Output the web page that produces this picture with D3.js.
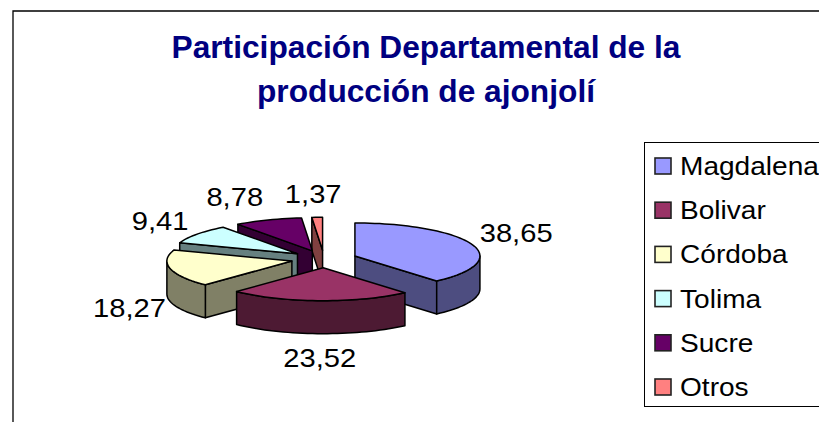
<!DOCTYPE html>
<html>
<head>
<meta charset="utf-8">
<script src="https://d3js.org/d3.v7.min.js"></script>
<style>
  html, body { margin: 0; padding: 0; background: #fff; overflow: hidden; }
  text { font-family: "Liberation Sans", Arial, sans-serif; }
</style>
</head>
<body>
<div class="graph"></div>
<script>
// values
var titleLines = ["Participación Departamental de la", "producción de ajonjolí"];
var categories = ["Magdalena", "Bolivar", "Córdoba", "Tolima", "Sucre", "Otros"];
var values     = [38.65, 23.52, 18.27, 9.41, 8.78, 1.37];
var colors     = ["#9999FF", "#993366", "#FFFFCC", "#CCFFFF", "#660066", "#FF8080"];

var width   = 819,
    height  = 422;

// pie geometry (ellipse seen from above, slices pulled out)
var cx      = 324,
    cy      = 259,
    rx      = 125,
    ry      = 33,
    depth   = 33,
    explode = 33;

var widen      = 1.06;   // the reference is stretched sideways a bit
var labelWiden = 1.1;

var svg = d3.select(".graph")
            .append("svg")
            .attr("width", width)
            .attr("height", height);

// outer frame, cut off by the picture on the right and bottom
svg.append("path")
   .attr("d", d3.line()([[13, height], [13, 11], [width, 11]]))
   .attr("fill", "none")
   .attr("stroke", "#000")
   .attr("stroke-width", 1.3);

svg.selectAll(".title")
   .data(titleLines)
   .enter()
   .append("text")
   .attr("class", "title")
   .attr("x", 426)
   .attr("y", function (d, i) { return 58 + i * 44; })
   .attr("text-anchor", "middle")
   .attr("font-size", 31.7)
   .attr("font-weight", "bold")
   .attr("fill", "#000080")
   .text(function (d) { return d; });

var color = d3.scaleOrdinal().domain(categories).range(colors);
var side  = function (name) { return d3.interpolateRgb(color(name), "#000")(0.5); };

var slices = d3.pie().sort(null).value(function (d) { return d.value; })(
  categories.map(function (c, i) { return { name: c, value: values[i] }; })
);

function px(a) { return Math.sin(a) * rx; }
function py(a) { return -Math.cos(a) * ry; }

slices.forEach(function (s) {
  s.mid = (s.startAngle + s.endAngle) / 2;
  s.ax  = cx + Math.sin(s.mid) * explode;
  s.ay  = cy - Math.cos(s.mid) * explode * ry / rx;
});

// points along the rim of a slice between two angles
function rim(s, a0, a1, dy) {
  var n = Math.max(2, Math.ceil(Math.abs(a1 - a0) / 0.04)), pts = [];
  for (var i = 0; i <= n; i++) {
    var a = a0 + (a1 - a0) * i / n;
    pts.push([s.ax + px(a), s.ay + py(a) + dy]);
  }
  return pts;
}

var poly = d3.line();

function face(s, a) {
  return poly([[s.ax, s.ay], [s.ax + px(a), s.ay + py(a)],
               [s.ax + px(a), s.ay + py(a) + depth], [s.ax, s.ay + depth]]) + "Z";
}

// back slices first
var order = slices.slice().sort(function (a, b) { return a.ay - b.ay; });

var pieG = svg.append("g")
              .attr("stroke", "#000")
              .attr("stroke-width", 1.5)
              .attr("stroke-linejoin", "round");

order.forEach(function (s) {
  var name = s.data.name;
  var g = pieG.append("g");

  if (Math.sin(s.startAngle) < 0) {
    g.append("path").attr("d", face(s, s.startAngle)).attr("fill", side(name));
  }
  if (Math.sin(s.endAngle) > 0) {
    g.append("path").attr("d", face(s, s.endAngle)).attr("fill", side(name));
  }

  // outer wall, only the part that faces us
  var a0 = Math.max(s.startAngle, Math.PI / 2),
      a1 = Math.min(s.endAngle, 3 * Math.PI / 2);
  if (a1 > a0) {
    var wall = rim(s, a0, a1, 0).concat(rim(s, a1, a0, depth));
    g.append("path").attr("d", poly(wall) + "Z").attr("fill", side(name));
  }

  var top = [[s.ax, s.ay]].concat(rim(s, s.startAngle, s.endAngle, 0));
  g.append("path").attr("d", poly(top) + "Z").attr("fill", color(name));
});

// data labels around the pie
var labelFormat = d3.formatLocale({ decimal: ",", thousands: ".", grouping: [3], currency: ["", ""] }).format(".2f");
var labelRx = 204, labelRy = 66;
var labelNudge = [[1, -3], [1, 33], [4, 34], [0, 1], [-17, 0], [-2, 1]];

svg.selectAll(".label")
   .data(slices)
   .enter()
   .append("text")
   .attr("class", "label")
   .attr("transform", function (d, i) {
     var x = cx + Math.sin(d.mid) * labelRx + labelNudge[i][0],
         y = cy - Math.cos(d.mid) * labelRy + labelNudge[i][1] + 9;
     return "translate(" + x + "," + y + ") scale(" + labelWiden + ",1)";
   })
   .attr("text-anchor", "middle")
   .attr("font-size", 26.5)
   .attr("fill", "#000")
   .text(function (d) { return labelFormat(d.data.value); });

// legend
var legendY = d3.scalePoint().domain(categories).range([166, 387]);

svg.append("rect")
   .attr("x", 644.5)
   .attr("y", 142.5)
   .attr("width", 200)
   .attr("height", 264)
   .attr("fill", "#fff")
   .attr("stroke", "#000")
   .attr("stroke-width", 1);

var legend = svg.selectAll(".legend")
                .data(categories)
                .enter()
                .append("g")
                .attr("class", "legend")
                .attr("transform", function (d) { return "translate(0," + legendY(d) + ")"; });

legend.append("rect")
      .attr("x", 655)
      .attr("y", -8)
      .attr("width", 16)
      .attr("height", 16)
      .attr("fill", function (d) { return color(d); })
      .attr("stroke", "#222")
      .attr("stroke-width", 1.6);

legend.append("text")
      .attr("transform", "translate(680,9) scale(" + widen + ",1)")
      .attr("font-size", 26.5)
      .attr("fill", "#000")
      .text(function (d) { return d; });
</script>
</body>
</html>
